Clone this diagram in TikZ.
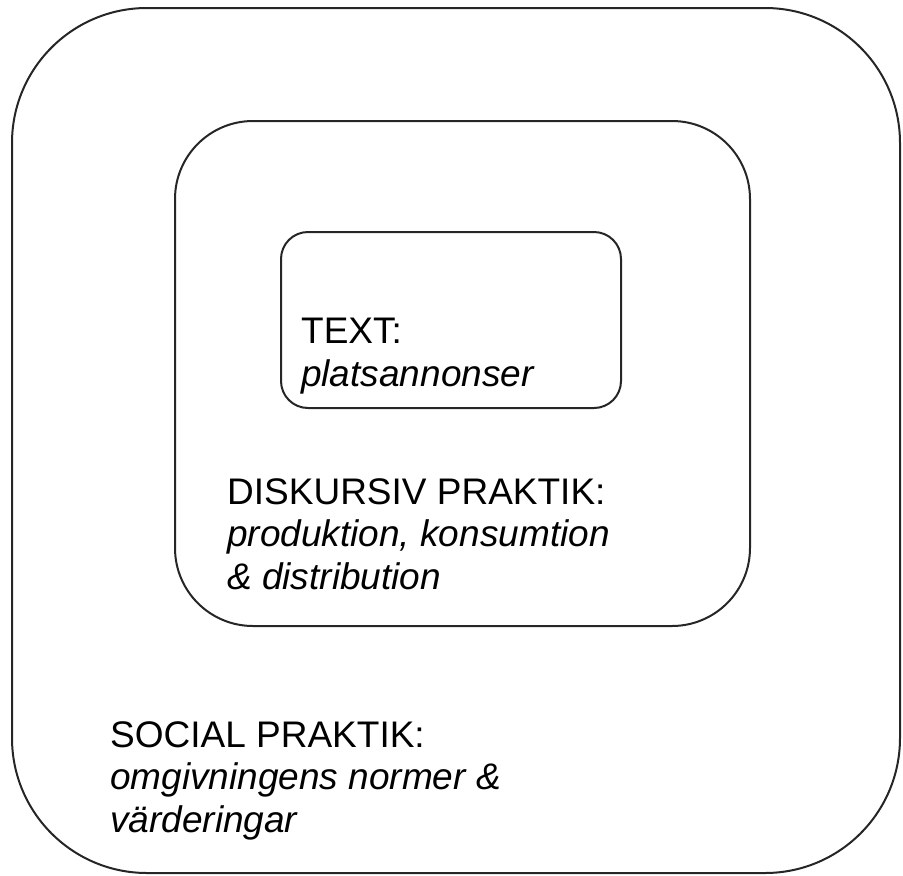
\documentclass[tikz,border=0pt]{standalone}
\usepackage{fontspec}
\setmainfont{Liberation Sans}
\begin{document}
\begin{tikzpicture}[x=1pt,y=-1pt,
  frame/.style={draw=black!85, line width=2pt, inner sep=0pt, outer sep=0pt, rectangle},
  lbl/.style={anchor=base west, inner sep=0pt, align=left, font=\fontsize{37}{42.5}\selectfont}]
\useasboundingbox (0,0) rectangle (903,876);
\node[frame, rounded corners=135pt, minimum width=888pt, minimum height=865pt] (social) at (456,440.5) {};
\node[frame, rounded corners=78pt, minimum width=575pt, minimum height=505pt] (diskursiv) at (462.5,373.5) {};
\node[frame, rounded corners=27pt, minimum width=340pt, minimum height=176pt] (text) at (451,320) {};
\node[lbl] (textlbl) at (301,386) {TEXT:\\\itshape platsannonser};
\node[lbl] (disklbl) at (227,589) {DISKURSIV PRAKTIK:\\\itshape produktion, konsumtion\\\itshape \& distribution};
\node[lbl] (sociallbl) at (110,832) {SOCIAL PRAKTIK:\\\itshape omgivningens normer \&\\\itshape värderingar};
\end{tikzpicture}
\end{document}
